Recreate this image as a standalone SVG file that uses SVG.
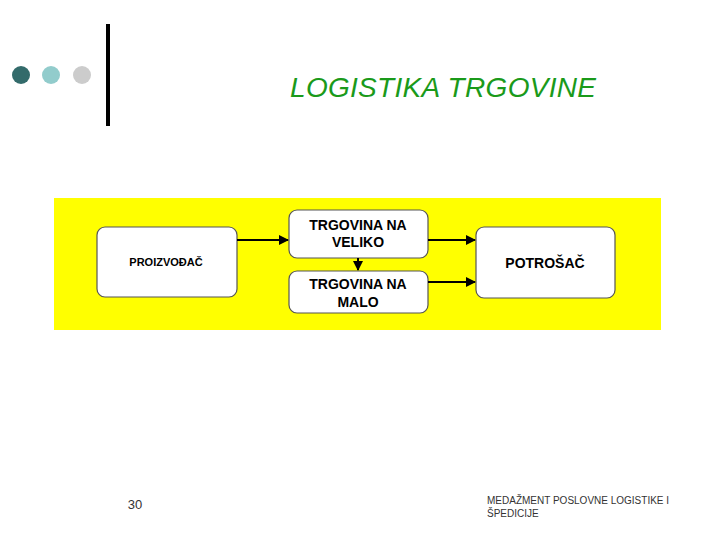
<svg xmlns="http://www.w3.org/2000/svg" width="720" height="540" viewBox="0 0 720 540">
<defs>
<style>
.box{fill:#fff;stroke:#555;stroke-width:1.2}
.t{font-family:"Liberation Sans",Arial,sans-serif;font-weight:bold;fill:#000;text-anchor:middle}
.c{stroke:#000;stroke-width:2;fill:none;marker-end:url(#a)}
</style>
<marker id="a" viewBox="0 0 10 10" refX="9" refY="5" markerWidth="5" markerHeight="5" orient="auto"><path d="M0,0L10,5L0,10z" fill="#000"/></marker>
</defs>
<rect width="720" height="540" fill="#fff"/>
<circle cx="21" cy="75" r="9" fill="#336b6b"/>
<circle cx="51" cy="75" r="9" fill="#92cccc"/>
<circle cx="82" cy="75" r="9" fill="#cccccc"/>
<rect x="106" y="24" width="4" height="102" fill="#000"/>
<text x="443" y="97" font-family="Liberation Sans,Arial,sans-serif" font-style="italic" font-size="28" fill="#1a9a1a" text-anchor="middle" textLength="306">LOGISTIKA TRGOVINE</text>
<rect x="54" y="198" width="607" height="132" fill="#ffff00"/>
<g id="proizvodac"><rect class="box" x="97" y="227" width="140" height="70" rx="8"/><text class="t" x="166" y="266" font-size="11">PROIZVOĐAČ</text></g>
<g id="veliko"><rect class="box" x="289" y="210" width="139" height="48" rx="8"/><text class="t" x="358" y="230" font-size="14">TRGOVINA NA</text><text class="t" x="358" y="247" font-size="14">VELIKO</text></g>
<g id="malo"><rect class="box" x="289" y="271" width="139" height="42" rx="8"/><text class="t" x="358" y="289" font-size="14">TRGOVINA NA</text><text class="t" x="358" y="307" font-size="14">MALO</text></g>
<g id="potrosac"><rect class="box" x="476" y="227" width="139" height="71" rx="8"/><text class="t" x="545" y="268" font-size="14">POTROŠAČ</text></g>
<g id="connectors">
<line class="c" x1="237" y1="240" x2="288" y2="240"/>
<line class="c" x1="428" y1="240" x2="475" y2="240"/>
<line class="c" x1="428" y1="282" x2="475" y2="282"/>
<line class="c" x1="358" y1="258" x2="358" y2="270"/>
</g>
<text x="135" y="509" font-family="Liberation Sans,Arial,sans-serif" font-size="13" fill="#333" text-anchor="middle">30</text>
<text x="487" y="504" font-family="Liberation Sans,Arial,sans-serif" font-size="10" fill="#333">MEDAŽMENT POSLOVNE LOGISTIKE I</text>
<text x="487" y="517" font-family="Liberation Sans,Arial,sans-serif" font-size="10" fill="#333">ŠPEDICIJE</text>
</svg>
